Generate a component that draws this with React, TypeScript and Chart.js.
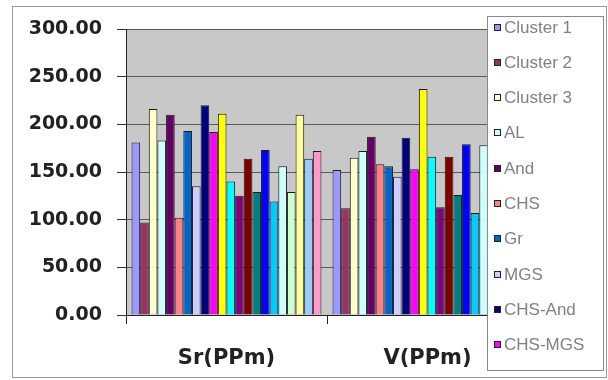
import React, { useEffect, useRef } from 'react';
import { Chart, registerables } from 'chart.js';

Chart.register(...registerables);

const categories = ['Sr(PPm)', 'V(PPm)'];

const seriesNames = [
  'Cluster 1', 'Cluster 2', 'Cluster 3', 'AL', 'And', 'CHS', 'Gr', 'MGS', 'CHS-And', 'CHS-MGS',
  'Series 11', 'Series 12', 'Series 13', 'Series 14', 'Series 15', 'Series 16',
  'Series 17', 'Series 18', 'Series 19', 'Series 20', 'Series 21', 'Series 22',
];

const srValues = [181, 97, 216, 183, 210, 102, 193, 135, 220, 192, 211, 140, 125, 164, 129, 173, 119, 156, 129, 210, 164, 172];
const vValues = [152, 112, 165, 172, 187, 158, 156, 145, 186, 153, 237, 166, 113, 166, 126, 179, 107, 178, 130, 175, 120, 170];

const seriesColors = [
  '#9999FF', '#993366', '#FFFFCC', '#CCFFFF', '#660066', '#FF8080', '#0066CC', '#CCCCFF',
  '#000080', '#FF00FF', '#FFFF00', '#00FFFF', '#800080', '#800000', '#008080', '#0000FF',
  '#00CCFF', '#CCFFFF', '#CCFFCC', '#FFFF99', '#99CCFF', '#FF99CC',
];

const legendCount = 10;
const yMin = 0;
const yMax = 300;
const yStep = 50;

const frameAndLegend = {
  id: 'frameAndLegend',
  beforeDraw(chart: any) {
    const { ctx, chartArea } = chart;
    ctx.save();
    ctx.fillStyle = '#ffffff';
    ctx.fillRect(0, 0, chart.width, chart.height);
    ctx.strokeStyle = '#9a9a9a';
    ctx.lineWidth = 1;
    ctx.strokeRect(12.5, 6.5, 594, 371);
    ctx.fillStyle = '#c8c8c8';
    ctx.fillRect(chartArea.left, chartArea.top, chartArea.right - chartArea.left, chartArea.bottom - chartArea.top);
    ctx.restore();
  },
  afterDraw(chart: any) {
    const { ctx } = chart;
    ctx.save();
    const lx = 487, ly = 16, lw = 116, lh = 354;
    ctx.fillStyle = '#ffffff';
    ctx.fillRect(lx, ly, lw, lh);
    ctx.strokeStyle = '#8a8a8a';
    ctx.lineWidth = 1;
    ctx.strokeRect(lx + 0.5, ly + 0.5, lw, lh);
    ctx.font = '17px "Liberation Sans", Arial, sans-serif';
    ctx.textBaseline = 'middle';
    ctx.textAlign = 'left';
    chart.data.datasets.slice(0, legendCount).forEach((ds: any, i: number) => {
      const cy = Math.round(26.5 + i * 35.3);
      ctx.fillStyle = ds.backgroundColor;
      ctx.fillRect(494, cy - 3, 7, 7);
      ctx.strokeStyle = '#222';
      ctx.strokeRect(494.5, cy - 2.5, 6, 6);
      ctx.fillStyle = '#80808a';
      ctx.fillText(ds.label, 504, cy + 1);
    });
    ctx.restore();
  },
};

export default function App() {
  const canvasRef = useRef<HTMLCanvasElement | null>(null);

  useEffect(() => {
    if (!canvasRef.current) return;
    const datasets = seriesNames.map((name, i) => ({
      label: name,
      data: [srValues[i], vValues[i]],
      backgroundColor: seriesColors[i],
      borderColor: '#1a1a1a',
      borderWidth: 1,
      borderSkipped: 'bottom' as const,
      barPercentage: 1,
      categoryPercentage: 0.945,
    }));

    const chart = new Chart(canvasRef.current, {
      type: 'bar',
      data: { labels: categories, datasets },
      options: {
        responsive: false,
        animation: false,
        devicePixelRatio: 1,
        layout: { padding: { left: 0, top: 29, right: 80, bottom: 0 } },
        plugins: {
          legend: { display: false },
          tooltip: { enabled: false },
          title: { display: false },
        },
        scales: {
          x: {
            afterFit: (scale: any) => { scale.height = 65; },
            grid: {
              display: true,
              drawOnChartArea: false,
              drawTicks: true,
              tickLength: 9,
              offset: true,
              color: '#222',
            },
            border: { display: true, color: '#222', width: 1 },
            ticks: {
              padding: 22,
              color: '#222',
              font: { family: '"DejaVu Sans", sans-serif', size: 21, weight: 'bold' },
            },
          },
          y: {
            min: yMin,
            max: yMax,
            afterFit: (scale: any) => { scale.width = 126; },
            grid: {
              color: '#5a5a5a',
              tickColor: '#333',
              tickLength: 9,
              drawTicks: true,
            },
            border: { display: true, color: '#222', width: 1 },
            ticks: {
              stepSize: yStep,
              padding: 15,
              color: '#222',
              font: { family: '"DejaVu Sans", sans-serif', size: 19, weight: 'bold' },
              callback: (v: any) => Number(v).toFixed(2),
            },
          },
        },
      },
      plugins: [frameAndLegend],
    });
    return () => chart.destroy();
  }, []);

  return (
    <div style={{ position: 'absolute', left: 0, top: 0, width: 608, height: 380, background: '#fff' }}>
      <canvas ref={canvasRef} width={608} height={380} style={{ display: 'block' }} />
    </div>
  );
}
